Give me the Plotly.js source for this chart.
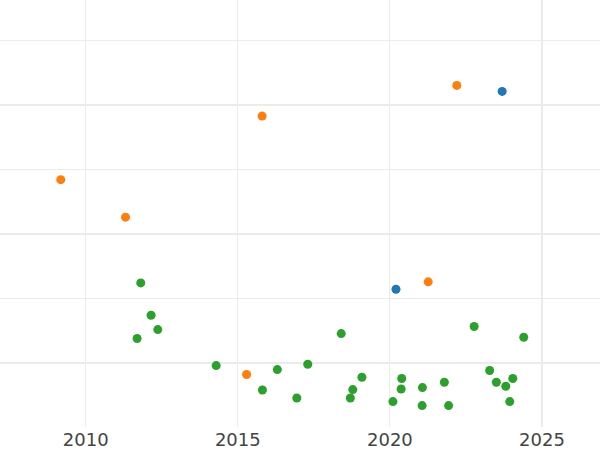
<!DOCTYPE html>
<html>
<head>
<meta charset="utf-8">
<script src="https://cdn.plot.ly/plotly-3.0.1.min.js"></script>
<style>html,body{margin:0;padding:0;background:#fff;}#chart{width:600px;height:450px;}</style>
</head>
<body>
<div id="chart"></div>
<script>
// Series: year (x) and value (y)
const blueX = [2023.69, 2020.20];
const blueY = [7.208, 4.138];

const orangeX = [2009.18, 2011.31, 2015.80, 2022.20, 2021.26, 2015.29];
const orangeY = [5.838, 5.256, 6.825, 7.301, 4.252, 2.814];

const greenX = [2011.81, 2012.15, 2012.37, 2011.69, 2014.29, 2016.30, 2015.81, 2016.94, 2017.30,
                2018.40, 2019.08, 2018.78, 2018.70, 2020.10, 2022.77, 2024.40, 2020.39, 2020.37,
                2021.07, 2021.06, 2021.79, 2021.93, 2023.28, 2023.50, 2023.81, 2024.04, 2023.94];
const greenY = [4.236, 3.734, 3.512, 3.373, 2.953, 2.891, 2.575, 2.450, 2.974,
                3.450, 2.772, 2.581, 2.450, 2.394, 3.559, 3.393, 2.752, 2.590,
                2.612, 2.332, 2.694, 2.332, 2.876, 2.694, 2.632, 2.752, 2.394];

const xTicks = [2010, 2015, 2020, 2025];
const xTickText = ["2010", "2015", "2020", "2025"];

const mk = (x, y, color) => ({
  x: x, y: y, type: 'scatter', mode: 'markers',
  marker: {color: color, size: 9},
  hoverinfo: 'x+y', showlegend: false
});

const data = [
  mk(blueX, blueY, '#1f77b4'),
  mk(orangeX, orangeY, '#ff7f0e'),
  mk(greenX, greenY, '#2ca02c')
];

const layout = {
  width: 600, height: 450,
  margin: {l: 0, r: 0, t: 0, b: 23, pad: 0},
  paper_bgcolor: '#ffffff', plot_bgcolor: '#ffffff',
  showlegend: false,
  font: {family: 'DejaVu Sans, sans-serif', color: '#444444', size: 18},
  xaxis: {
    range: [2007.183, 2026.907],
    tickmode: 'array', tickvals: xTicks, ticktext: xTickText,
    showgrid: true, gridcolor: '#ebebeb', gridwidth: 1,
    minor: {tickmode: 'array', tickvals: [2025], showgrid: true, gridcolor: '#ebebeb', gridwidth: 2, ticks: ''},
    zeroline: false, showline: false, ticks: '',
    tickfont: {family: 'DejaVu Sans, sans-serif', size: 18, color: '#444444'}
  },
  yaxis: {
    range: [2.0, 8.626],
    tickmode: 'array', tickvals: [3, 5, 7], showticklabels: false,
    showgrid: true, gridcolor: '#ebebeb', gridwidth: 2,
    minor: {tickmode: 'array', tickvals: [4, 6, 8], showgrid: true, gridcolor: '#ebebeb', gridwidth: 1, ticks: ''},
    zeroline: false, showline: false, ticks: ''
  }
};

Plotly.newPlot('chart', data, layout, {displayModeBar: false, staticPlot: true});
</script>
</body>
</html>
